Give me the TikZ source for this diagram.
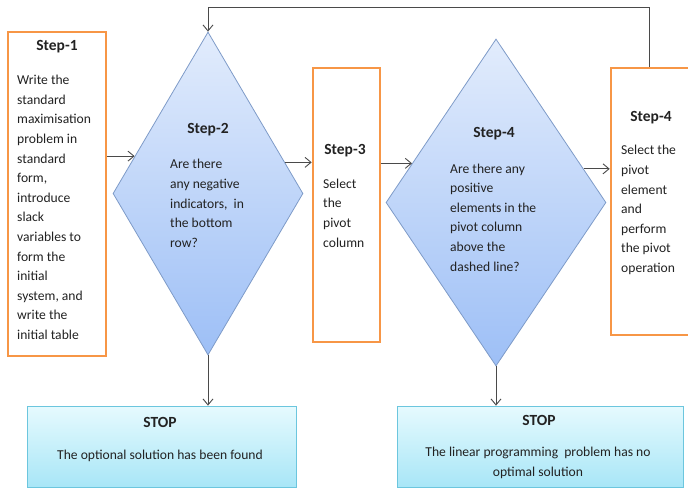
\documentclass[tikz,border=0pt]{standalone}
\usepackage{fontspec}
\setmainfont{Carlito}
\usetikzlibrary{shapes.geometric, arrows, arrows.meta, positioning}
\definecolor{boxorange}{HTML}{F79646}
\definecolor{diaedge}{HTML}{7E9BC8}
\definecolor{diatop}{HTML}{E2ECFC}
\definecolor{diabot}{HTML}{9DBFF6}
\definecolor{stopedge}{HTML}{6CC6DE}
\definecolor{stoptop}{HTML}{E6FAFE}
\definecolor{stopbot}{HTML}{A8E6F7}
\definecolor{linegray}{HTML}{4A4A4A}
\definecolor{textgray}{HTML}{222222}

\begin{document}
\begin{tikzpicture}[x=1pt, y=-1pt,
    stepbox/.style={draw=boxorange, line width=2.6pt, fill=white, rectangle, inner sep=0pt},
    decision/.style={diamond, draw=diaedge, line width=0.8pt, top color=diatop, bottom color=diabot, inner sep=0pt},
    stopbox/.style={draw=stopedge, line width=0.8pt, top color=stoptop, bottom color=stopbot, rectangle, inner sep=0pt},
    title/.style={font=\fontsize{15.5}{18}\selectfont\bfseries, text=textgray, inner sep=0pt},
    body/.style={font=\fontsize{13.6}{19.6}\selectfont, text=textgray, align=left, anchor=west, inner sep=0pt},
    flow/.style={-{Straight Barb[length=6pt, width=10pt]}, draw=linegray, line width=0.9pt}]
                \useasboundingbox (0,0) rectangle (688,488);

                % Step boxes and decisions
                \node[stepbox, minimum width=98pt, minimum height=324pt] (step1) at (57, 194) {};
                \node[decision, minimum width=190pt, minimum height=323pt] (dec2) at (208, 193.5) {};
                \node[stepbox, minimum width=67pt, minimum height=274pt] (step3) at (346.5, 205) {};
                \node[decision, minimum width=220pt, minimum height=327pt] (dec4) at (496, 202.5) {};
                \node[stepbox, minimum width=81pt, minimum height=267pt] (step4) at (651.5, 201.5) {};

                % Stop boxes
                \node[stopbox, minimum width=269pt, minimum height=81pt] (stopA) at (161.5, 446.5) {};
                \node[stopbox, minimum width=286pt, minimum height=81pt] (stopB) at (540, 446.5) {};

                % Texts
                \node[title] (t1) at (57, 47) {Step-1};
                \node[body] (b1) at (17, 207.5) {Write the\\standard\\maximisation\\problem in\\standard\\form,\\introduce\\slack\\variables to\\form the\\initial\\system, and\\write the\\initial table};
                \node[title] (t2) at (208, 130) {Step-2};
                \node[body] (b2) at (170, 203.5) {Are there\\any negative\\indicators,~ in\\the bottom\\row?};
                \node[title] (t3) at (345, 151) {Step-3};
                \node[body] (b3) at (323, 213) {Select\\the\\pivot\\column};
                \node[title] (t4) at (494, 134) {Step-4};
                \node[body] (b4) at (450, 217.5) {Are there any\\positive\\elements in the\\pivot column\\above the\\dashed line?};
                \node[title] (t5) at (651, 118) {Step-4};
                \node[body] (b5) at (621, 210) {Select the\\pivot\\element\\and\\perform\\the pivot\\operation};
                \node[title] (sA) at (160, 422) {STOP};
                \node[body, anchor=center, align=center] (mA) at (160, 456) {The optional solution has been found};
                \node[title] (sB) at (539, 420) {STOP};
                \node[body, anchor=center, align=center] (mB) at (538, 463) {The linear programming~ problem has no\\optimal solution};

                % Connectors
                \draw[flow] (dec2.153 -| step1.east) -- (dec2.153);
                \draw[flow] (dec2.22) -- (dec2.22 -| step3.west);
                \draw[flow] (dec4.155 -| step3.east) -- (dec4.155);
                \draw[flow] (dec4.21) -- (dec4.21 -| step4.west);
                \draw[flow] (dec2.south) -- (dec2.south |- stopA.north);
                \draw[flow] (dec4.south) -- (dec4.south |- stopB.north);
                \draw[flow] ([xshift=-2.5pt]step4.north) -- ++(0,-59) -| (dec2.north);

\end{tikzpicture}
\end{document}
